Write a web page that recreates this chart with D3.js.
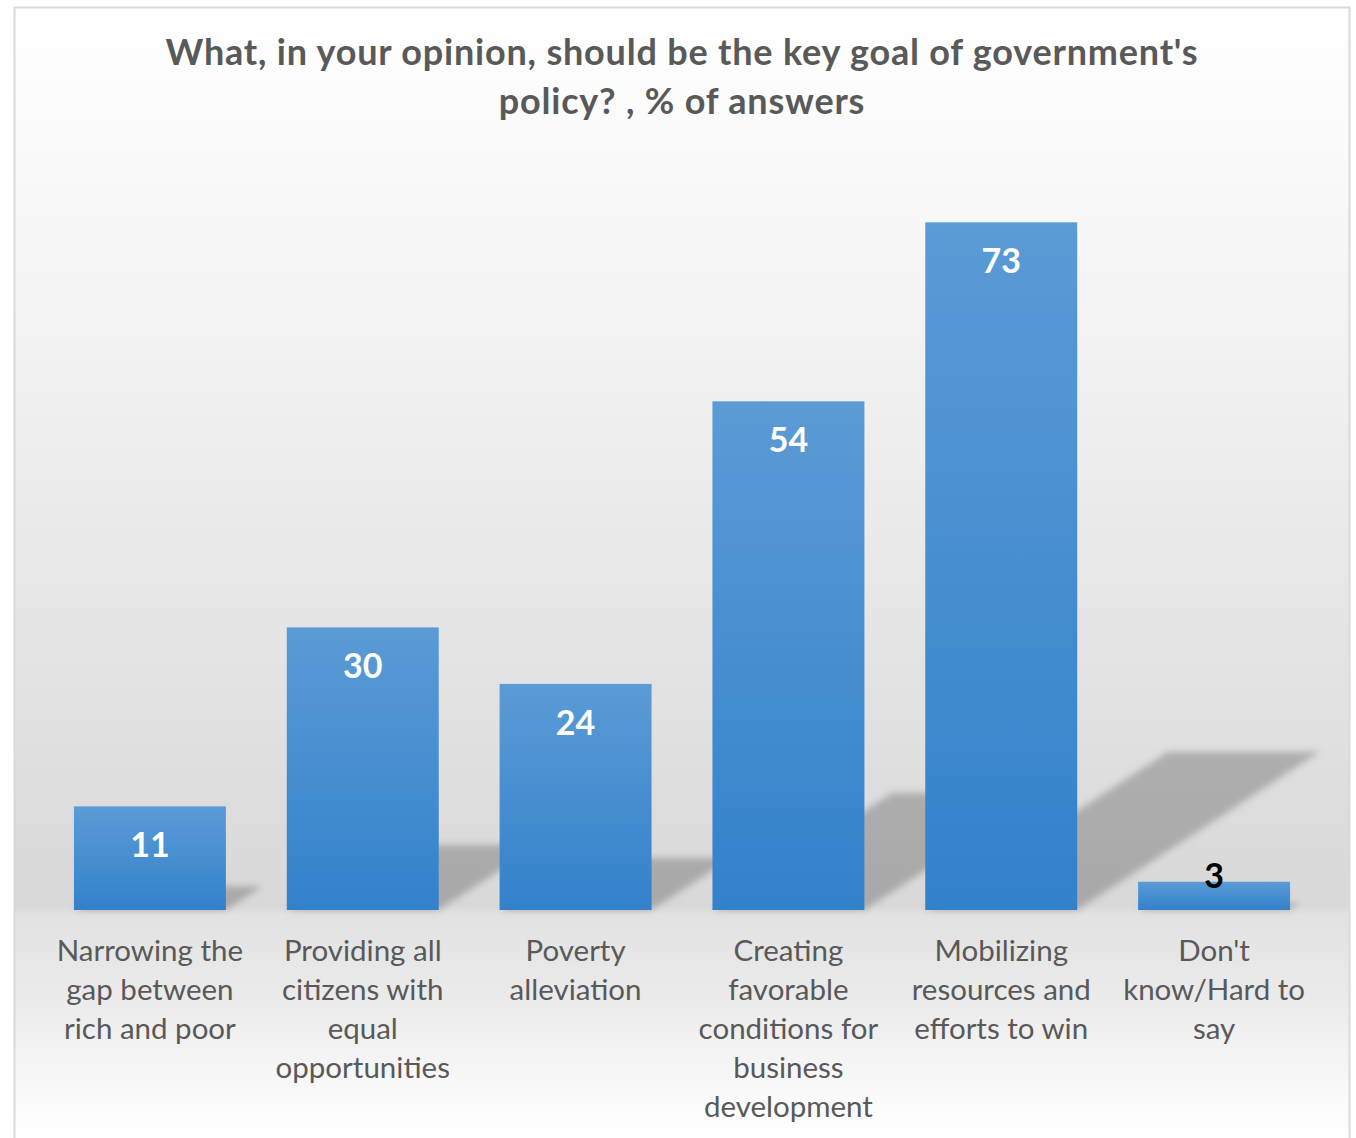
<!DOCTYPE html>
<html>
<head>
<meta charset="utf-8">
<script src="https://cdn.jsdelivr.net/npm/d3@7"></script>
<style>
  html, body { margin: 0; padding: 0; background: #ffffff; }
  svg { display: block; }
</style>
</head>
<body>
<script>
// Survey categories (each entry is a list of wrapped label lines)
const categories = [
  ["Narrowing the", "gap between", "rich and poor"],
  ["Providing all", "citizens with", "equal", "opportunities"],
  ["Poverty", "alleviation"],
  ["Creating", "favorable", "conditions for", "business", "development"],
  ["Mobilizing", "resources and", "efforts to win"],
  ["Don't", "know/Hard to", "say"]
];
const values = [11, 30, 24, 54, 73, 3];
const titleLines = [
  "What, in your opinion, should be the key goal of government's",
  "policy? , % of answers"
];

const W = 1356, H = 1138;
const baseY = 910;

const svg = d3.select("body").append("svg")
  .attr("width", W).attr("height", H)
  .style("font-family", "Lato, 'Open Sans', sans-serif");

const defs = svg.append("defs");

// Chart background: white at top, grey toward the baseline, fading again under the labels
const bg = defs.append("linearGradient")
  .attr("id", "bgGrad").attr("gradientUnits", "userSpaceOnUse")
  .attr("x1", 0).attr("y1", 7).attr("x2", 0).attr("y2", 1140);
[[7, "#ffffff"], [200, "#f8f8f8"], [500, "#ebebeb"], [905, "#d8d8d8"],
 [915, "#e2e2e2"], [1000, "#ebebeb"], [1110, "#fcfcfc"], [1140, "#ffffff"]]
  .forEach(([y, c]) => bg.append("stop")
    .attr("offset", (y - 7) / (1140 - 7)).attr("stop-color", c));

// Bar fill: lighter blue at top, deeper blue at bottom
const barGrad = defs.append("linearGradient")
  .attr("id", "barGrad").attr("x1", 0).attr("y1", 0).attr("x2", 0).attr("y2", 1);
barGrad.append("stop").attr("offset", 0).attr("stop-color", "#5b9bd6");
barGrad.append("stop").attr("offset", 1).attr("stop-color", "#3381cb");

const blur = defs.append("filter").attr("id", "shadowBlur")
  .attr("x", "-20%").attr("y", "-20%").attr("width", "140%").attr("height", "140%");
blur.append("feGaussianBlur").attr("stdDeviation", 3.5);

// Chart area frame
svg.append("rect")
  .attr("x", 14.5).attr("y", 7.5).attr("width", 1335).attr("height", 1150)
  .attr("fill", "url(#bgGrad)").attr("stroke", "#d9d9d9").attr("stroke-width", 2);

// Title
svg.append("text")
  .attr("text-anchor", "middle")
  .attr("fill", "#595959").attr("font-weight", "bold").attr("font-size", 36)
  .attr("letter-spacing", 0.8)
  .selectAll("tspan").data(titleLines).join("tspan")
  .attr("x", 682).attr("y", (d, i) => 65 + i * 49)
  .text(d => d);

// Scales
const x = d3.scaleBand()
  .domain(d3.range(categories.length))
  .range([43.5, 1320.5])
  .paddingInner(0.286).paddingOuter(0.143);

const y = d3.scaleLinear().domain([0, 80]).range([baseY, baseY - 80 * 9.42]);

// Perspective shadows cast up and to the right of each bar
const shadowRise = 0.23, shadowShift = 0.353;
svg.append("g").attr("filter", "url(#shadowBlur)")
  .selectAll("path").data(values).join("path")
  .attr("fill", "#000").attr("fill-opacity", 0.22)
  .attr("d", (d, i) => {
    const x0 = x(i), x1 = x(i) + x.bandwidth();
    const h = baseY - y(d);
    const top = baseY - h * shadowRise, dx = h * shadowShift;
    return `M${x0},${baseY}L${x1},${baseY}L${x1 + dx},${top}L${x0 + dx},${top}Z`;
  });

// Bars
svg.append("g").selectAll("rect").data(values).join("rect")
  .attr("x", (d, i) => x(i))
  .attr("y", d => y(d))
  .attr("width", x.bandwidth())
  .attr("height", d => y(0) - y(d))
  .attr("fill", "url(#barGrad)");

// Value labels: inside the bar top, or above it when the bar is too short
svg.append("g").selectAll("text").data(values).join("text")
  .attr("x", (d, i) => x(i) + x.bandwidth() / 2)
  .attr("y", d => (y(0) - y(d)) > 60 ? y(d) + 51 : y(d) + 6)
  .attr("text-anchor", "middle")
  .attr("font-weight", "bold").attr("font-size", 34)
  .attr("fill", d => (y(0) - y(d)) > 60 ? "#ffffff" : "#000000")
  .text(d => d);

// Category labels
const labels = svg.append("g").selectAll("text").data(categories).join("text")
  .attr("text-anchor", "middle")
  .attr("fill", "#595959").attr("font-size", 29.5);
labels.selectAll("tspan").data((d, i) => d.map(t => ({ t, i }))).join("tspan")
  .attr("x", d => x(d.i) + x.bandwidth() / 2)
  .attr("y", (d, j) => 961 + j * 39)
  .text(d => d.t);
</script>
</body>
</html>
